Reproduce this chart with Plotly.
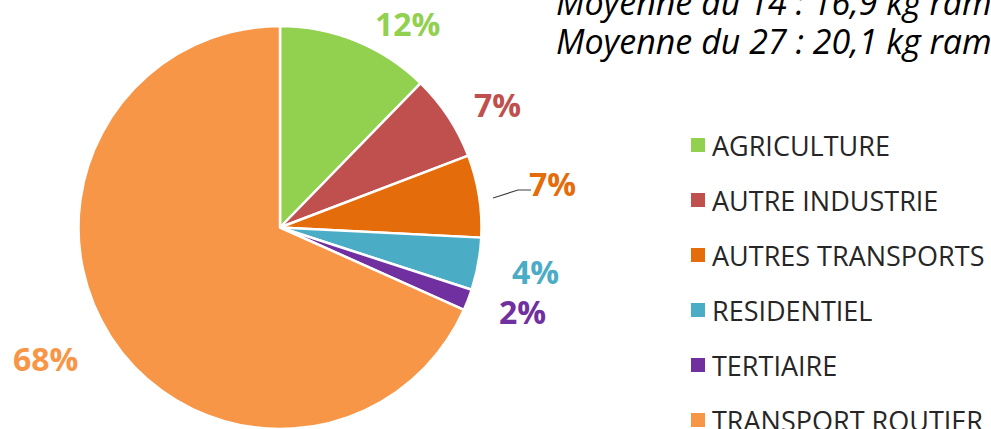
import plotly.graph_objects as go

# ---- data ----
categories = ["AGRICULTURE", "AUTRE INDUSTRIE", "AUTRES TRANSPORTS",
              "RESIDENTIEL", "TERTIAIRE", "TRANSPORT ROUTIER"]
shares = [12.3, 6.9, 6.6, 4.2, 1.7, 68.3]
colors = ["#92D050", "#C0504D", "#E46C0A", "#4BACC6", "#7030A0", "#F79646"]
title_lines = ["Moyenne du 14 : 16,9 kg ram", "Moyenne du 27 : 20,1 kg ram"]

W, H = 991, 429

def px(x):
    return x / W

def py(y):
    return 1 - y / H

fig = go.Figure()
fig.add_trace(go.Pie(
    labels=categories, values=shares, sort=False, direction="clockwise",
    rotation=0, textinfo="none", hoverinfo="label+percent",
    marker=dict(colors=colors, line=dict(color="white", width=2.5)),
    domain=dict(x=[px(78), px(482)], y=[py(429), py(26)]),
    showlegend=False,
))

total = sum(shares)
pct_text = [f"{round(v / total * 100)}%" for v in shares]
# label anchor positions (pixels)
label_pos = [(407, 24), (497, 104), (552, 183), (535, 271), (522, 311), (45, 358)]

annotations = []
for t, c, (x, y) in zip(pct_text, colors, label_pos):
    annotations.append(dict(
        x=px(x), y=py(y), xref="paper", yref="paper", text=t, showarrow=False,
        xanchor="center", yanchor="middle",
        font=dict(family="Open Sans", size=32, color=c, weight="bold")))

shapes = [dict(type="path", xref="paper", yref="paper",
               path=f"M {px(493)} {py(198)} L {px(518)} {py(190)} L {px(531)} {py(190)}",
               line=dict(color="#404040", width=1.2))]

# legend built manually
for i, (cat, c) in enumerate(zip(categories, colors)):
    yc = 145 + 55 * i
    shapes.append(dict(type="rect", xref="paper", yref="paper",
                       x0=px(691), x1=px(705), y0=py(yc + 7), y1=py(yc - 7),
                       fillcolor=c, line=dict(width=0)))
    annotations.append(dict(
        x=px(710), y=py(yc), xref="paper", yref="paper", text=cat, showarrow=False,
        xanchor="left", yanchor="middle",
        font=dict(family="Open Sans", size=27, color="#262626")))

for i, line in enumerate(title_lines):
    annotations.append(dict(
        x=px(554), y=py(27 + 39 * i), xref="paper", yref="paper", text=f"<i>{line}</i>",
        showarrow=False, xanchor="left", yanchor="bottom",
        font=dict(family="Open Sans", size=34, color="black")))

fig.update_layout(
    width=W, height=H, margin=dict(l=0, r=0, t=0, b=0),
    paper_bgcolor="white", plot_bgcolor="white",
    annotations=annotations, shapes=shapes, showlegend=False,
)

fig.write_html("out.html", config={"displayModeBar": False},
               post_script="document.body.style.margin='0';")
